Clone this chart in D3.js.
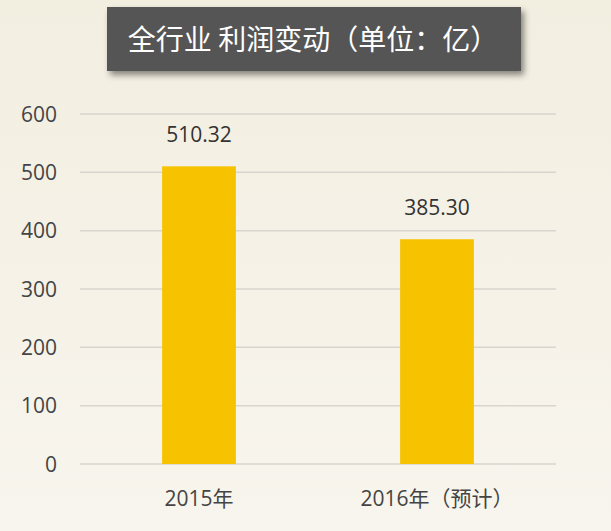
<!DOCTYPE html>
<html><head><meta charset="utf-8">
<script src="https://cdn.jsdelivr.net/npm/d3@7/dist/d3.min.js"></script>
<style>
html,body{margin:0;padding:0;}
body{width:611px;height:531px;overflow:hidden;}
</style></head>
<body>
<script>
const categories = ["2015年", "2016年（预计）"];
const values = [510.32, 385.30];
const valueLabels = ["510.32", "385.30"];
const yTicks = [0, 100, 200, 300, 400, 500, 600];
const title = "全行业 利润变动（单位：亿）";

const W = 611, H = 531;
const svg = d3.select("body").append("svg").attr("width", W).attr("height", H);
const defs = svg.append("defs");
const bg = defs.append("linearGradient").attr("id","bg").attr("x1",0).attr("y1",0).attr("x2",0).attr("y2",1);
bg.append("stop").attr("offset","0").attr("stop-color","#f2eee0");
bg.append("stop").attr("offset","1").attr("stop-color","#f8f5ee");
svg.append("rect").attr("width",W).attr("height",H).attr("fill","url(#bg)");

const f = defs.append("filter").attr("id","sh").attr("x","-10%").attr("y","-20%").attr("width","130%").attr("height","160%");
f.append("feDropShadow").attr("dx",3).attr("dy",4).attr("stdDeviation",3).attr("flood-color","#000").attr("flood-opacity",0.45);

const font = "'Open Sans','Noto Sans CJK SC',sans-serif";
const cjk = "'Noto Sans CJK SC',sans-serif";
const x = d3.scaleBand().domain(categories).range([80, 556]).paddingInner(0.69).paddingOuter(0.345);
const y = d3.scaleLinear().domain([0, 600]).range([464, 114]);

// grid
svg.append("g").selectAll("line").data(yTicks).join("line")
  .attr("x1",80).attr("x2",556).attr("y1",d=>y(d)).attr("y2",d=>y(d))
  .attr("stroke","#d8d5cf").attr("stroke-width",1.5);

// y labels
svg.append("g").selectAll("text").data(yTicks).join("text")
  .attr("x",57).attr("y",d=>y(d)).attr("dy","0.36em").attr("text-anchor","end")
  .attr("font-family",font).attr("font-size",21).attr("fill","#444").text(d=>d);

// bars
svg.append("g").selectAll("rect").data(values).join("rect")
  .attr("x",(d,i)=>x(categories[i])).attr("width",x.bandwidth())
  .attr("y",d=>y(d)).attr("height",d=>y(0)-y(d)).attr("fill","#f7c300");

// value labels
svg.append("g").selectAll("text").data(values).join("text")
  .attr("x",(d,i)=>x(categories[i])+x.bandwidth()/2).attr("y",d=>y(d)-24)
  .attr("text-anchor","middle").attr("font-family",font).attr("font-size",21).attr("fill","#333")
  .text((d,i)=>valueLabels[i]);

// x labels
svg.append("g").selectAll("text").data(categories).join("text")
  .attr("x",d=>x(d)+x.bandwidth()/2).attr("y",506)
  .attr("text-anchor","middle").attr("font-family",font).attr("font-size",21).attr("fill","#444")
  .text(d=>d);

// title
svg.append("rect").attr("x",107).attr("y",7).attr("width",414).attr("height",64).attr("fill","#555555").attr("filter","url(#sh)");
svg.append("text").attr("x",313).attr("y",40).attr("dy","0.35em").attr("text-anchor","middle")
  .attr("font-family",cjk).attr("font-size",28).attr("fill","#fff").text(title);
</script>
</body></html>
